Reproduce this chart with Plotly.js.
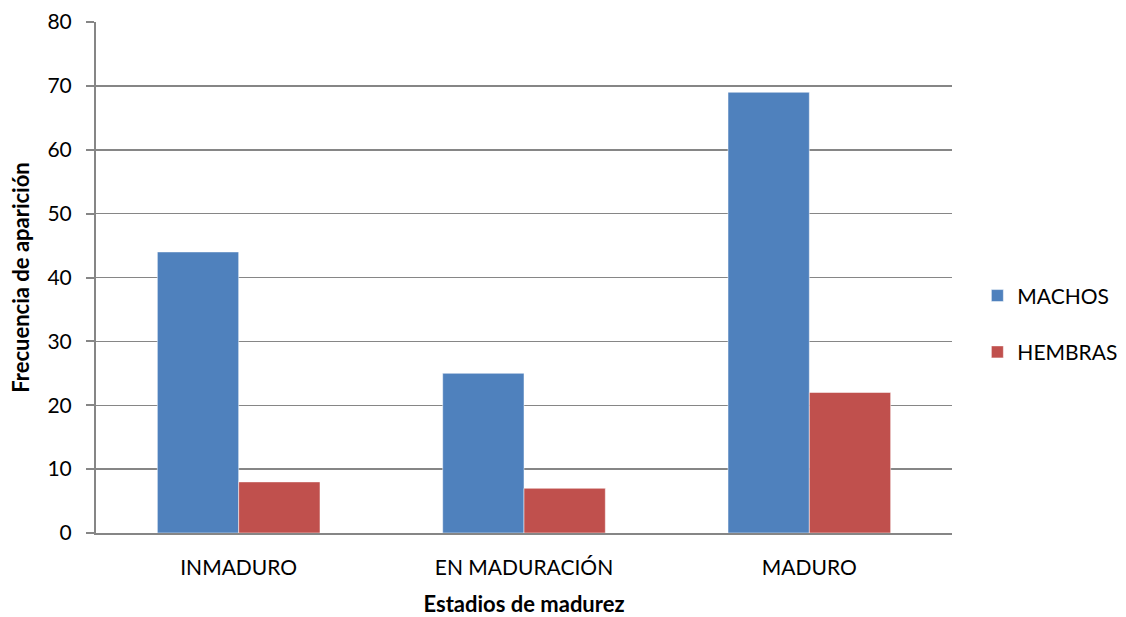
<!DOCTYPE html>
<html>
<head>
<meta charset="utf-8">
<script src="https://cdn.plot.ly/plotly-3.0.1.min.js"></script>
<style>html,body{margin:0;padding:0;background:#fff}#chart{width:1126px;height:617px}</style>
</head>
<body>
<div id="chart"></div>
<script>
const categories = ["INMADURO", "EN MADURACIÓN", "MADURO"];
const machos = [44, 25, 69];
const hembras = [8, 7, 22];
const seriesNames = ["MACHOS", "HEMBRAS"];
const yTicks = [0, 10, 20, 30, 40, 50, 60, 70, 80];

const font = "Lato, Open Sans, sans-serif";
const traces = [
  {type: "bar", x: categories, y: machos, name: seriesNames[0], legendgroup: "a",
   marker: {color: "#4F81BD", line: {color: "#ffffff", width: 0.5}}},
  {type: "bar", x: categories, y: hembras, name: seriesNames[1], legendgroup: "b",
   marker: {color: "#C0504D", line: {color: "#ffffff", width: 0.5}}}
];
const layout = {
  width: 1126, height: 617,
  margin: {l: 96, r: 174, t: 22, b: 84},
  paper_bgcolor: "#fff", plot_bgcolor: "#fff",
  barmode: "group", bargap: 0.43, bargroupgap: 0,
  font: {family: font, size: 21, color: "#000"},
  xaxis: {
    showline: true, linecolor: "#868686", linewidth: 2,
    ticks: "", tickfont: {size: 21}, ticklabelstandoff: 15,
    title: {text: "<b>Estadios de madurez</b>", font: {size: 22}, standoff: 20},
    fixedrange: true
  },
  yaxis: {
    range: [0, 80], tickvals: yTicks, ticktext: yTicks.map(String),
    showgrid: true, gridcolor: "#868686", gridwidth: 1.5,
    showline: true, linecolor: "#868686", linewidth: 2,
    ticks: "outside", ticklen: 8, tickcolor: "#868686", tickwidth: 2,
    tickfont: {size: 21}, zeroline: false, ticklabelstandoff: 10,
    title: {text: "<b>Frecuencia de aparición</b>", font: {size: 22}, standoff: 12}
  },
  legend: {xref: "container", yref: "container", x: 0.868, xanchor: "left",
           y: 0.475, yanchor: "middle",
           traceorder: "grouped", tracegroupgap: 26, font: {size: 21},
           itemwidth: 30},
  showlegend: true
};
Plotly.newPlot("chart", traces, layout, {displayModeBar: false, staticPlot: true});
</script>
</body>
</html>
